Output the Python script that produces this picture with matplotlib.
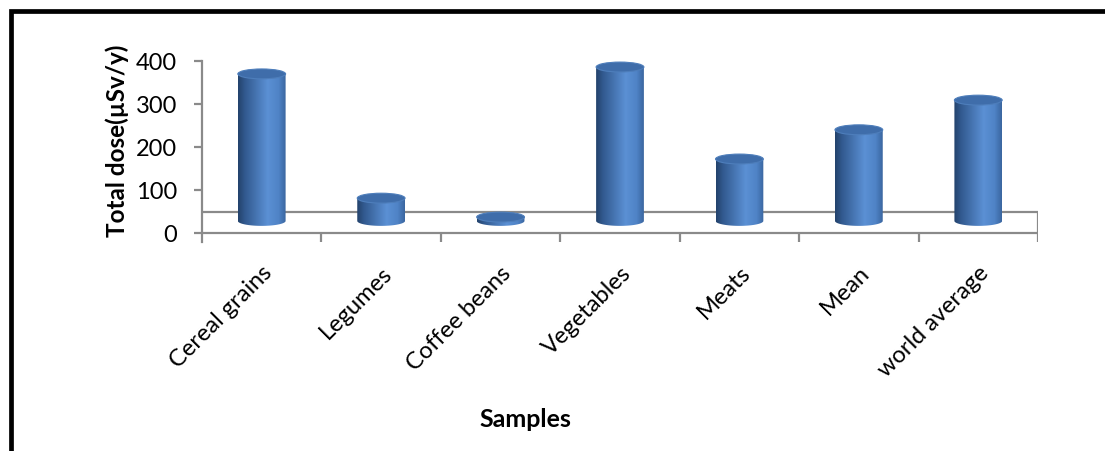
import numpy as np
import matplotlib.pyplot as plt
from matplotlib.path import Path
from matplotlib.patches import PathPatch, Ellipse, Rectangle
from matplotlib.colors import LinearSegmentedColormap

plt.rcParams['font.family'] = ['Lato', 'DejaVu Sans']

samples = ['Cereal grains', 'Legumes', 'Coffee beans', 'Vegetables',
           'Meats', 'Mean', 'world average']
dose = [342, 53, 9, 358, 144, 212, 281]   # total dose, uSv/y
yticks = [0, 100, 200, 300, 400]

W, H = 1105, 452
fig = plt.figure(figsize=(W / 100, H / 100), dpi=100)
ax = fig.add_axes([202 / W, (H - 243) / H, (1038 - 202) / W, (243 - 62) / H])

ylo = -21
ax.set_xlim(-0.5, len(samples) - 0.5)
ax.set_ylim(ylo, 400)

grey = '#8a8a8a'
for s in ['top', 'right', 'bottom']:
    ax.spines[s].set_visible(False)
ax.spines['left'].set_color(grey)
ax.spines['left'].set_linewidth(1.6)

# 3d floor: front edge, back edge, category ticks
depth = 49      # back edge of the floor, in value units
base = 28       # cylinder base (mid depth)
ax.hlines(0, -0.5, len(samples) - 0.5, color=grey, lw=1.6)
ax.hlines(depth, -0.5, len(samples) - 0.5, color=grey, lw=1.6)
bounds = np.arange(len(samples) + 1) - 0.5
ax.vlines(bounds[1:-1], ylo, 0, color=grey, lw=1.6)
ax.vlines(bounds[-1], ylo, depth, color=grey, lw=1.6)

ax.set_yticks(yticks)
ax.tick_params(axis='y', length=6, width=1.6, color=grey, labelsize=17, pad=12)
ax.set_xticks(range(len(samples)))
ax.set_xticklabels(samples, rotation=45, ha='right', rotation_mode='anchor', fontsize=17)
ax.tick_params(axis='x', length=0, pad=14)

cmap = LinearSegmentedColormap.from_list('cyl', [
    (0.0, '#23426b'), (0.15, '#325a90'), (0.62, '#5b90d4'),
    (0.85, '#4f83c6'), (1.0, '#3a669f')])
grad = np.linspace(0, 1, 256).reshape(1, -1)

w = 0.40
ry = 11.5
th = np.linspace(np.pi, 2 * np.pi, 60)
for i, v in enumerate(dose):
    x0, x1 = i - w / 2, i + w / 2
    yt = base + v
    arc = np.column_stack([i + w / 2 * np.cos(th), base + ry * np.sin(th)])
    verts = np.vstack([[x0, yt], arc, [x1, yt], [x0, yt]])
    side = PathPatch(Path(verts), facecolor='none', edgecolor='none')
    ax.add_patch(side)
    im = ax.imshow(grad, cmap=cmap, aspect='auto',
                   extent=[x0, x1, base - ry, yt + ry], zorder=2)
    im.set_clip_path(side)
    ax.add_patch(Ellipse((i, yt), w, 2 * ry, facecolor='#3f6daa',
                         edgecolor='#4e7ebb', lw=0.8, zorder=3))

ax.set_xlim(-0.5, len(samples) - 0.5)
ax.set_ylim(ylo, 400)

fig.text(117 / W, 1 - 141 / H, 'Total dose(µSv/y)', rotation=90, fontsize=17.5,
         fontweight='bold', ha='center', va='center')
fig.text(525 / W, 1 - 420 / H, 'Samples', fontsize=18, fontweight='bold',
         ha='center', va='center')

# outer frame (only top and left visible)
fig.patches.append(Rectangle((10.5 / W, -0.2), 1.2, 1.2 - 12 / H,
                             transform=fig.transFigure, fill=False,
                             edgecolor='black', lw=3.4))

fig.savefig('out.png', dpi=100)
